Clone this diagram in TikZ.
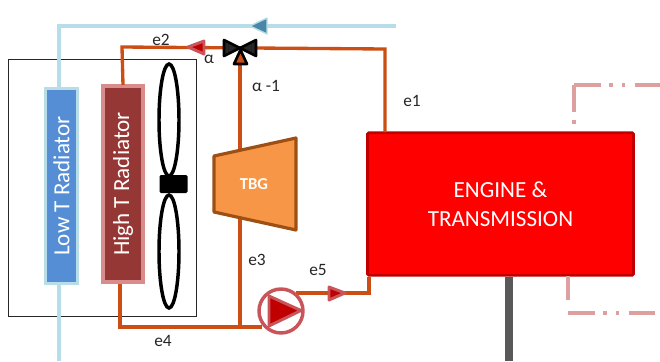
\documentclass[tikz,border=0pt]{standalone}
\usepackage{fontspec}
\setmainfont{Carlito}
\usetikzlibrary{calc}
\definecolor{pipe}{HTML}{CC4E14}
\definecolor{cold}{HTML}{B7DEE8}
\definecolor{coldfill}{HTML}{4A86A8}
\definecolor{arrowred}{HTML}{C00000}
\definecolor{arrowedge}{HTML}{C9555A}
\definecolor{dashcol}{HTML}{DDA0A0}
\tikzset{
  x=0.75pt,y=-0.75pt,
  pipeline/.style={draw=pipe,line width=2.5pt},
  coldline/.style={draw=cold,line width=2.5pt},
  lab/.style={font=\fontsize{13}{15}\selectfont,text=black!85,inner sep=0pt},
  radiator/.style={rotate=90,text=white,font=\fontsize{17.3}{19}\selectfont,inner sep=0pt,outer sep=0pt,anchor=center},
  blade/.style={draw=black,line width=2.6pt,fill=white},
  flowtip/.style={fill=arrowred,draw=arrowedge,line width=2.2pt,line join=round},
  coldtip/.style={fill=coldfill,draw=cold,line width=1pt,line join=round},
  chaindash/.style={draw=dashcol,line width=2.3pt,dash pattern=on 20pt off 6.5pt on 2.5pt off 7pt on 2.5pt off 7pt},
  valvepart/.style={fill=black!85,draw=black,line width=2pt,line join=round},
}
\begin{document}
\begin{tikzpicture}
\useasboundingbox (0,0) rectangle (660,361);
% housing
\node[draw=black!85,line width=0.75pt,minimum width=141pt,minimum height=192.75pt,inner sep=0pt] (box) at (102,187.5) {};
% coordinates
\coordinate (lowtop) at (59,26);
\coordinate (lowend) at (396,26);
\coordinate (lowbot) at (59,361);
\coordinate (hight) at (122,47);
\coordinate (enct) at (385,49);
\coordinate (j) at (240,327);
\coordinate (hc) at (120,327);
\coordinate (pumpout) at (369,293);
% radiators
\draw[coldline] (59,88) -- (lowtop) -- (lowend);
\draw[coldline] (59,283) -- (lowbot);
\node[draw=cold,line width=2.4pt,fill={rgb,255:red,85;green,142;blue,213},minimum width=146.25pt,minimum height=24pt,rotate=90,inner sep=0pt] (low) at (61.5,186) {};
\node[radiator] at (61.5,186) {Low T Radiator};
\node[draw={rgb,255:red,217;green,140;blue,140},line width=2.4pt,fill={rgb,255:red,149;green,55;blue,53},minimum width=147pt,minimum height=30pt,rotate=90,inner sep=0pt] (high) at (123,184) {};
\node[radiator] at (123,184) {High T Radiator};
% fan
\draw[blade] (169,120) ellipse [x radius=10,y radius=56];
\draw[blade] (169,251.5) ellipse [x radius=10,y radius=56.5];
\node[fill=black,rounded corners=1pt,minimum width=21pt,minimum height=13.5pt,inner sep=0pt] (hub) at (173.5,184) {};
% engine
\node[draw={rgb,255:red,192;green,0;blue,0},line width=2pt,fill=red,rounded corners=1pt,minimum width=199.5pt,minimum height=107pt,inner sep=0pt,align=center,text=white,font=\fontsize{17.3}{21.7}\selectfont] (engine) at (500.5,204) {ENGINE \&\\TRANSMISSION};
\fill[black!65] (505,277) rectangle (513,361);
% chain dashed
\coordinate (dtop) at (574,85);
\coordinate (dbot) at (568,313);
\draw[chaindash] (dtop) -- (660,85);
\draw[chaindash,dash pattern=on 20pt off 6.5pt on 2.5pt off 7pt] (dtop) -- (574,127);
\draw[chaindash] (dbot) -- (660,313);
\draw[chaindash,dash pattern=on 18pt] (568,276) -- (568,300);
% pipes
\draw[pipeline] (123,85) -- (hight) -- (enct) -- (385,132);
\draw[pipeline] (120,284) -- (hc) -- (262,327);
\draw[pipeline] (240,62) -- (j);
\draw[pipeline] (296,293) -- (pumpout) -- (369,277);
% TBG
\draw[draw={rgb,255:red,158;green,80;blue,20},line width=2.4pt,fill={rgb,255:red,247;green,150;blue,70},line join=round] (214,156) -- (296,138) -- (296,230) -- (214,212) -- cycle;
\node[text=white,font=\bfseries\fontsize{12.5}{14}\selectfont,inner sep=0pt] (tbg) at (254,184) {TBG};
% valve
\draw[valvepart] (224,40) -- (240,48) -- (224,56) -- cycle;
\draw[valvepart] (256,40) -- (240,48) -- (256,56) -- cycle;
\draw[valvepart,fill=pipe] (240.5,50) -- (234,64) -- (247,64) -- cycle;
% pump
\node[circle,draw=arrowedge,line width=2.6pt,fill=white,minimum size=33pt,inner sep=0pt] (pump) at (281,311) {};
\draw[flowtip] (269,296) -- (301,310.5) -- (269,326) -- cycle;
% flow tips
\draw[flowtip] (188,47) -- (204,41) -- (204,54) -- cycle;
\draw[flowtip] (345,293) -- (329,287) -- (329,300) -- cycle;
\draw[coldtip] (250,26) -- (267,18) -- (267,34) -- cycle;
% labels
\node[lab] at (161,40) {e2};
\node[lab] at (209,59) {α};
\node[lab] at (266,86) {α -1};
\node[lab] at (412,101) {e1};
\node[lab] at (257,260) {e3};
\node[lab] at (318,270) {e5};
\node[lab] at (163,341) {e4};
\end{tikzpicture}
\end{document}
